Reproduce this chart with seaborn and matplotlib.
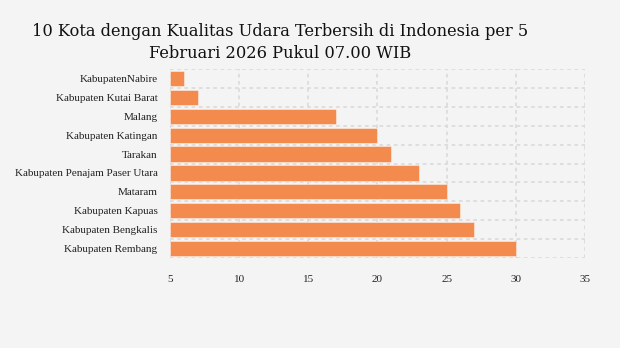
import matplotlib
matplotlib.use("Agg")
import matplotlib.pyplot as plt
import seaborn as sns
import pandas as pd
import numpy as np

cities = [
    "KabupatenNabire",
    "Kabupaten Kutai Barat",
    "Malang",
    "Kabupaten Katingan",
    "Tarakan",
    "Kabupaten Penajam Paser Utara",
    "Mataram",
    "Kabupaten Kapuas",
    "Kabupaten Bengkalis",
    "Kabupaten Rembang",
]
aqi = [6, 7, 17, 20, 21, 23, 25, 26, 27, 30]
x_ticks = [5, 10, 15, 20, 25, 30, 35]
title = "10 Kota dengan Kualitas Udara Terbersih di Indonesia per 5\nFebruari 2026 Pukul 07.00 WIB"

bg = "#f4f4f4"
bar_color = "#f38b4f"
grid_color = "#dcdcdc"

sns.set_theme(style="white")
plt.rcParams["font.family"] = ["Liberation Serif", "DejaVu Serif"]

df = pd.DataFrame({"kota": cities, "nilai": aqi})

fig = plt.figure(figsize=(6.2, 3.48), dpi=100, facecolor=bg)
ax = fig.add_axes([0.274, 0.2586, 0.6695, 0.5431], facecolor=bg)

# bars start at the axis origin (5), so draw them as offsets from that base
base = x_ticks[0]
sns.barplot(data=df, y="kota", x=np.array(aqi) - base, color=bar_color,
            orient="h", width=0.8, saturation=1, ax=ax, zorder=3)
for p in ax.patches:
    p.set_x(base)
    p.set_edgecolor((1, 1, 1, 0.5))
    p.set_linewidth(0.6)

ax.set_xlim(x_ticks[0], x_ticks[-1])
ax.set_ylim(len(cities) - 0.5, -0.5)
ax.set_xticks(x_ticks)
ax.set_xticklabels([str(t) for t in x_ticks], fontsize=8, color="#222222")
ax.tick_params(axis="x", length=0, pad=12)
ax.tick_params(axis="y", length=5, width=0.8, color="#c4c4c4", pad=4,
               labelsize=8, labelcolor="#222222")
ax.set_xlabel("")
ax.set_ylabel("")

# dashed grid: vertical at ticks, horizontal at row boundaries
for t in x_ticks:
    ax.axvline(t, color=grid_color, lw=1.3, ls=(0, (2, 2)), zorder=1)
for b in np.arange(-0.5, len(cities), 1.0):
    ax.axhline(b, color=grid_color, lw=1.3, ls=(0, (2, 2)), zorder=1)
for s in ax.spines.values():
    s.set_visible(False)

fig.text(0.452, 0.935, title, ha="center", va="top", fontsize=11.7,
         family=["DejaVu Serif"], color="#111111", linespacing=1.4)

fig.savefig("out.png", dpi=100, facecolor=bg)
